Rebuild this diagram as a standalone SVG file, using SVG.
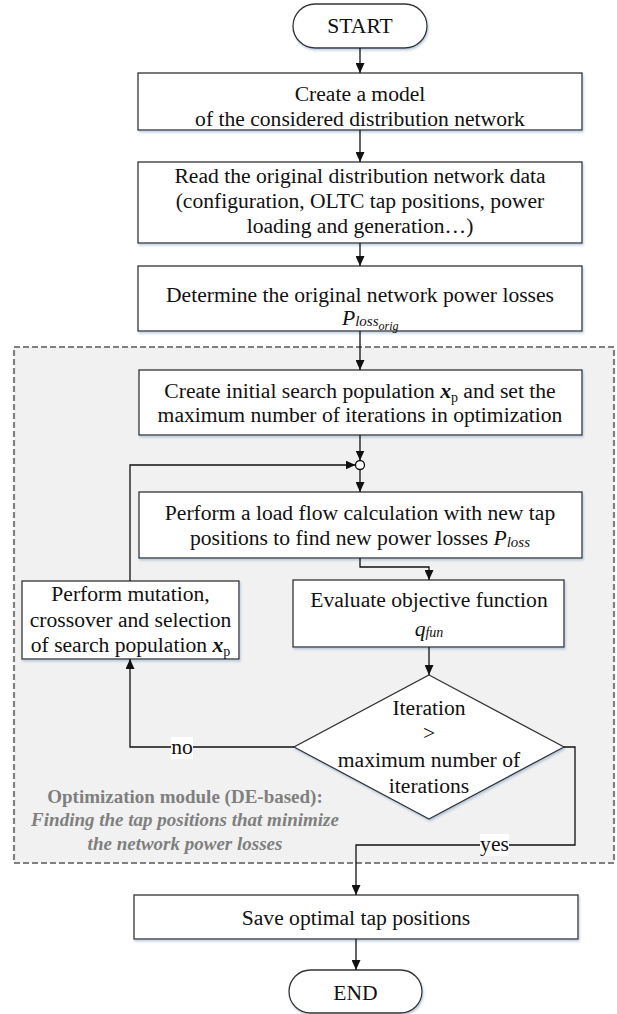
<svg xmlns="http://www.w3.org/2000/svg" width="617" height="1014" viewBox="0 0 617 1014">
<style>
text{font-family:'Liberation Serif','Times New Roman',Times,Tinos,'DejaVu Serif','Noto Serif',serif;}
.t{font-size:21.6px;fill:#111;}
.m{text-anchor:middle;}
.it{font-style:italic;}
.bx{fill:#fff;stroke:#333;stroke-width:1.3;filter:url(#sh);}
.cn{fill:none;stroke:#111;stroke-width:1.3;}
.cap{font-size:19px;font-weight:bold;fill:#7f7f7f;text-anchor:middle;}
</style>
<defs>
<marker id="ar" markerUnits="userSpaceOnUse" markerWidth="10" markerHeight="9" refX="10" refY="4.5" orient="auto">
<path d="M0,0 L10,4.5 L0,9 z" fill="#111"/>
</marker>
<filter id="sh" x="-5%" y="-10%" width="112%" height="130%">
<feDropShadow dx="1" dy="1.8" stdDeviation="0.9" flood-color="#8aa6c8" flood-opacity="0.55"/>
</filter>
</defs>

<g id="module" font-family="Liberation Serif, serif">
<rect x="14" y="347" width="600" height="516" fill="#f1f1f1" stroke="#808080" stroke-width="2.2" stroke-dasharray="6 3"/>
<text class="cap" x="185" y="803">Optimization module (DE-based):</text>
<text class="cap" x="185" y="826" font-style="italic">Finding the tap positions that minimize</text>
<text class="cap" x="185" y="850" font-style="italic">the network power losses</text>
</g>

<g id="start">
<rect class="bx" x="293" y="4" width="134" height="44" rx="22" ry="22"/>
<text class="t m" x="360" y="33">START</text>
</g>

<g id="box1">
<rect class="bx" x="138" y="73" width="444" height="57"/>
<text class="t m" x="360" y="101">Create a model</text>
<text class="t m" x="360" y="126">of the considered distribution network</text>
</g>

<g id="box2">
<rect class="bx" x="138" y="162" width="444" height="81"/>
<text class="t m" x="360" y="183">Read the original distribution network data</text>
<text class="t m" x="360" y="208">(configuration, OLTC tap positions, power</text>
<text class="t m" x="360" y="233">loading and generation…)</text>
</g>

<g id="box3">
<rect class="bx" x="138" y="266" width="444" height="65"/>
<text class="t m" x="360" y="302">Determine the original network power losses</text>
<text class="t" x="342" y="325"><tspan class="it">P</tspan><tspan class="it" font-size="15" dy="1">loss</tspan><tspan class="it" font-size="12" dy="4">orig</tspan></text>
</g>

<g id="box4">
<rect class="bx" x="139" y="370" width="443" height="65"/>
<text class="t m" x="360" y="398">Create initial search population <tspan font-weight="bold" font-style="italic">x</tspan><tspan font-size="14" dy="4">p</tspan><tspan dy="-4"> and set the</tspan></text>
<text class="t m" x="360" y="422">maximum number of iterations in optimization</text>
</g>

<g id="junction">
<circle cx="360" cy="465" r="4.5" fill="#fff" stroke="#111" stroke-width="1.3"/>
</g>

<g id="box5">
<rect class="bx" x="139" y="492" width="443" height="66"/>
<text class="t m" x="360" y="520">Perform a load flow calculation with new tap</text>
<text class="t m" x="360" y="545">positions to find new power losses <tspan class="it">P</tspan><tspan class="it" font-size="15" dy="2">loss</tspan></text>
</g>

<g id="box6">
<rect class="bx" x="293" y="580" width="271" height="67"/>
<text class="t m" x="429" y="607">Evaluate objective function</text>
<text class="t m" x="429" y="636"><tspan class="it">q</tspan><tspan class="it" font-size="14" dy="1">fun</tspan></text>
</g>

<g id="box7">
<rect class="bx" x="22" y="581" width="217" height="78"/>
<text class="t m" x="130.5" y="601">Perform mutation,</text>
<text class="t m" x="130.5" y="627">crossover and selection</text>
<text class="t m" x="130.5" y="652">of search population <tspan font-weight="bold" font-style="italic">x</tspan><tspan font-size="14" dy="4">p</tspan></text>
</g>

<g id="decision">
<polygon class="bx" points="429,675 564,747 429,819 294,747"/>
<text class="t m" x="429" y="715">Iteration</text>
<text class="t m" x="429" y="740">&gt;</text>
<text class="t m" x="429" y="767">maximum number of</text>
<text class="t m" x="429" y="793">iterations</text>
</g>

<g id="box8">
<rect class="bx" x="134" y="895" width="444" height="44"/>
<text class="t m" x="356" y="925">Save optimal tap positions</text>
</g>

<g id="end">
<rect class="bx" x="289" y="970" width="133" height="43" rx="21.5" ry="21.5"/>
<text class="t m" x="355.5" y="1000">END</text>
</g>

<g id="connectors">
<path class="cn" d="M360,48 V73" marker-end="url(#ar)"/>
<path class="cn" d="M360,130 V162" marker-end="url(#ar)"/>
<path class="cn" d="M360,243 V266" marker-end="url(#ar)"/>
<path class="cn" d="M360,331 V370" marker-end="url(#ar)"/>
<path class="cn" d="M360,435 V460.5" marker-end="url(#ar)"/>
<path class="cn" d="M360,469.5 V492" marker-end="url(#ar)"/>
<path class="cn" d="M130,581 V465 H355.5" marker-end="url(#ar)"/>
<path class="cn" d="M360,558 V567 H429 V580" marker-end="url(#ar)"/>
<path class="cn" d="M429,647 V675" marker-end="url(#ar)"/>
<path class="cn" d="M294,747 H130 V659" marker-end="url(#ar)"/>
<path class="cn" d="M564,747 H575 V845 H356 V895" marker-end="url(#ar)"/>
<path class="cn" d="M356,939 V970" marker-end="url(#ar)"/>
<rect x="171" y="737" width="22" height="22" fill="#fff"/>
<text class="t m" x="182" y="754">no</text>
<rect x="480" y="834" width="29" height="22" fill="#fff"/>
<text class="t m" x="494.5" y="851">yes</text>
</g>
</svg>
